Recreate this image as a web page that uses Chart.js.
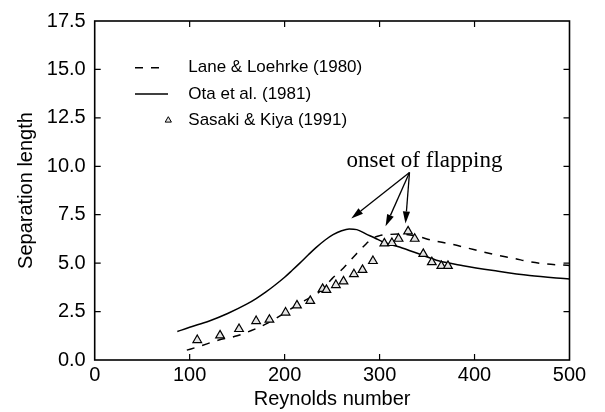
<!DOCTYPE html>
<html><head><meta charset="utf-8">
<script src="https://cdn.jsdelivr.net/npm/chart.js@4.4.0/dist/chart.umd.min.js"></script>
<style>html,body{margin:0;padding:0;background:#fff;}</style>
</head><body>
<canvas id="c" width="605" height="412"></canvas>
<script>
// ---- data ----
const laneRe = [97,110,130,150,165,180,200,214,228,240,250,262,275,286,292,300,310,322,336,356,374,391,409,424,442,458,475,493,500];
const laneL  = [0.51,0.70,1.02,1.25,1.52,1.85,2.42,2.88,3.25,3.65,4.2,4.75,5.45,6.0,6.27,6.42,6.48,6.5,6.43,6.17,6.0,5.8,5.58,5.41,5.24,5.07,4.96,4.9,4.88];
const otaRe = [87,100,120,140,160,170,180,190,200,208,216,225,233,242,251,260,268,276,286,295,304,321,345,362,388,420,458,500];
const otaL  = [1.47,1.69,2.0,2.4,2.88,3.17,3.5,3.87,4.27,4.63,5.0,5.43,5.8,6.17,6.47,6.67,6.76,6.73,6.5,6.3,6.08,5.83,5.41,5.12,4.87,4.62,4.36,4.18];
const sasakiRe = [108,132,152,170,184,201,213,227,240,244,254,262,273,282,293,305,313,320,330,337,346,355,365,372];
const sasakiL  = [1.03,1.27,1.6,2.01,2.08,2.45,2.82,3.05,3.67,3.62,3.87,4.06,4.43,4.65,5.11,6.02,6.04,6.26,6.64,6.26,5.48,5.05,4.86,4.86];
const seriesNames = ['Lane & Loehrke (1980)','Ota et al. (1981)','Sasaki & Kiya (1991)'];
const xTicks = [0,100,200,300,400,500];
const yTicks = [0,2.5,5,7.5,10,12.5,15,17.5];
const xTitle = 'Reynolds number';
const yTitle = 'Separation length';
const noteText = 'onset of flapping';
const noteAt = [347.3, 9.98];
const arrowFrom = [331.5, 9.68];
const arrowTips = [[270.2,7.31],[306.3,6.9],[327.3,7.05]];

const pts = (xs, ys) => xs.map((x, i) => ({x, y: ys[i]}));
const SANS = '"Liberation Sans", Arial, Helvetica, sans-serif';
const SERIF = '"Liberation Serif", "Times New Roman", serif';

const framePlugin = {
  id: 'frame',
  afterDraw(chart) {
    const {ctx, chartArea: a, scales: {x, y}} = chart;
    ctx.save();
    ctx.strokeStyle = '#000';
    ctx.lineWidth = 1.6;
    ctx.strokeRect(a.left, a.top, a.right - a.left, a.bottom - a.top);
    ctx.lineWidth = 1.2;
    const T = 6;
    ctx.beginPath();
    xTicks.slice(1, -1).forEach(v => {
      const px = x.getPixelForValue(v);
      ctx.moveTo(px, a.bottom); ctx.lineTo(px, a.bottom - T);
      ctx.moveTo(px, a.top); ctx.lineTo(px, a.top + T);
    });
    yTicks.slice(1, -1).forEach(v => {
      const py = y.getPixelForValue(v);
      ctx.moveTo(a.left, py); ctx.lineTo(a.left + T, py);
      ctx.moveTo(a.right, py); ctx.lineTo(a.right - T, py);
    });
    ctx.stroke();

    // legend
    const ds = chart.data.datasets;
    ctx.font = '17px ' + SANS;
    ctx.textBaseline = 'middle';
    ctx.fillStyle = '#000';
    ds.forEach((d, i) => {
      const ry = a.top + 46.7 + i * 26.3;
      const sx = a.left + 40.3;
      if (d.pointRadius === 0) {
        ctx.save();
        ctx.lineWidth = d.borderWidth;
        ctx.strokeStyle = d.borderColor;
        ctx.setLineDash(d.borderDash || []);
        ctx.beginPath();
        ctx.moveTo(sx, ry);
        ctx.lineTo(sx + (d.borderDash ? 24 : 33), ry);
        ctx.stroke();
        ctx.restore();
      } else {
        ctx.save();
        ctx.fillStyle = d.pointBackgroundColor; ctx.strokeStyle = '#000'; ctx.lineWidth = 1;
        ctx.beginPath();
        const r = 3.6, cx = a.left + 73.6;
        ctx.moveTo(cx, ry - r);
        ctx.lineTo(cx + r * 0.866, ry + r / 2);
        ctx.lineTo(cx - r * 0.866, ry + r / 2);
        ctx.closePath(); ctx.fill(); ctx.stroke();
        ctx.restore();
      }
      ctx.fillStyle = '#000';
      ctx.fillText(d.label, a.left + 93.6, ry);
    });

    // annotation
    ctx.font = '23px ' + SERIF;
    ctx.textAlign = 'center';
    ctx.textBaseline = 'alphabetic';
    ctx.fillText(noteText, x.getPixelForValue(noteAt[0]), y.getPixelForValue(noteAt[1]));
    const fx = x.getPixelForValue(arrowFrom[0]), fy = y.getPixelForValue(arrowFrom[1]);
    ctx.lineWidth = 1.3;
    arrowTips.forEach(t => {
      const tx = x.getPixelForValue(t[0]), ty = y.getPixelForValue(t[1]);
      const ang = Math.atan2(ty - fy, tx - fx);
      const L = 12, W = 3.6;
      const bx = tx - Math.cos(ang) * L, by = ty - Math.sin(ang) * L;
      ctx.beginPath(); ctx.moveTo(fx, fy); ctx.lineTo(bx, by); ctx.stroke();
      ctx.beginPath();
      ctx.moveTo(tx, ty);
      ctx.lineTo(bx + Math.sin(ang) * W, by - Math.cos(ang) * W);
      ctx.lineTo(bx - Math.sin(ang) * W, by + Math.cos(ang) * W);
      ctx.closePath(); ctx.fill();
    });
    ctx.restore();
  }
};

new Chart(document.getElementById('c'), {
  type: 'line',
  data: {
    datasets: [
      { label: seriesNames[0], data: pts(laneRe, laneL), borderColor: '#000', borderWidth: 1.5,
        borderDash: [8, 8], pointRadius: 0, fill: false, cubicInterpolationMode: 'monotone', order: 2 },
      { label: seriesNames[1], data: pts(otaRe, otaL), borderColor: '#000', borderWidth: 1.5,
        pointRadius: 0, fill: false, cubicInterpolationMode: 'monotone', order: 3 },
      { label: seriesNames[2], data: pts(sasakiRe, sasakiL), showLine: false, pointStyle: 'triangle',
        pointRadius: 5, pointBorderWidth: 1.2, pointBorderColor: '#000', pointBackgroundColor: '#e4e4e4',
        borderColor: '#000', order: 1 }
    ]
  },
  options: {
    responsive: false, animation: false, devicePixelRatio: 1,
    layout: { padding: { top: 15, right: 35.5, left: 0, bottom: 0 } },
    plugins: { legend: { display: false }, tooltip: { enabled: false } },
    scales: {
      x: {
        type: 'linear', min: 0, max: 500,
        grid: { display: false, drawTicks: false }, border: { display: false },
        afterBuildTicks: s => { s.ticks = xTicks.map(v => ({value: v})); },
        ticks: { color: '#000', font: { family: SANS, size: 20 }, padding: 3, maxRotation: 0, autoSkip: false },
        title: { display: true, text: xTitle, color: '#000', font: { family: SANS, size: 20 }, padding: { top: 0, bottom: 1 } },
        afterFit: s => { s.height = 52; }
      },
      y: {
        type: 'linear', min: 0, max: 17.5,
        grid: { display: false, drawTicks: false }, border: { display: false },
        afterBuildTicks: s => { s.ticks = yTicks.map(v => ({value: v})); },
        ticks: { color: '#000', font: { family: SANS, size: 20 }, padding: 9, autoSkip: false,
                 callback: v => Number(v).toFixed(1) },
        title: { display: true, text: yTitle, color: '#000', font: { family: SANS, size: 20 }, padding: { top: 14, bottom: 0 } },
        afterFit: s => { s.width = 94.7; }
      }
    }
  },
  plugins: [framePlugin]
});
</script>
</body></html>
